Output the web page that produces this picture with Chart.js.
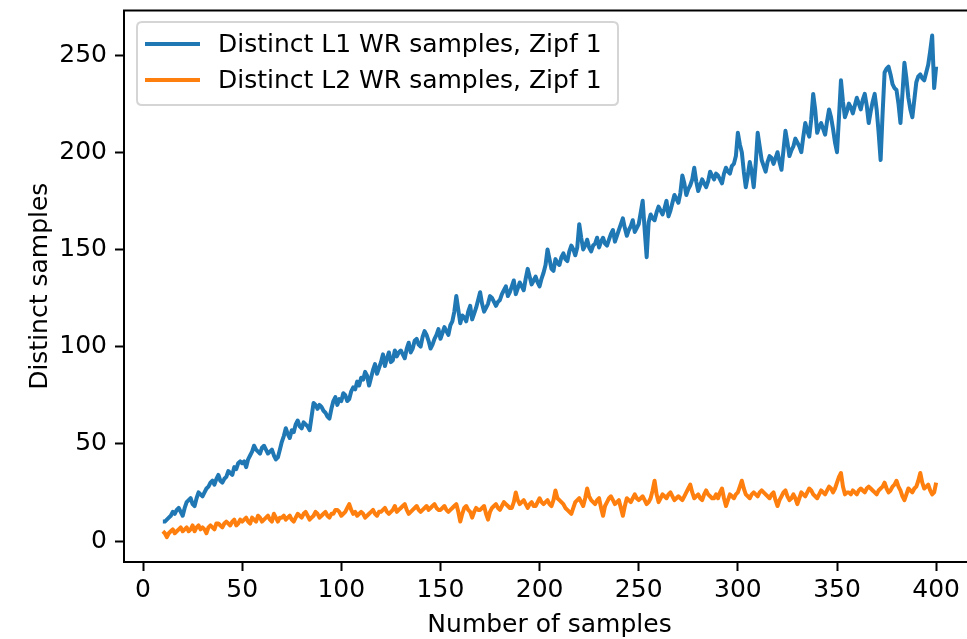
<!DOCTYPE html>
<html>
<head>
<meta charset="utf-8">
<script src="https://cdn.jsdelivr.net/npm/chart.js@4"></script>
<style>
html,body{margin:0;padding:0;background:#fff;overflow:hidden;width:967px;height:639px;}
#outer{position:relative;width:967px;height:639px;overflow:hidden;}
#wrap{position:absolute;left:0;top:0;width:1000px;height:639px;}
</style>
</head>
<body>
<div id="outer"><div id="wrap"><canvas id="c"></canvas></div></div>
<script>
const sampleCounts = [
10,11,12,13,14,15,16,17,18,19,20,21,22,23,24,25,26,27,28,29,
30,31,32,33,34,35,36,37,38,39,40,41,42,43,44,45,46,47,48,49,
50,51,52,53,54,55,56,57,58,59,60,61,62,63,64,65,66,67,68,69,
70,71,72,73,74,75,76,77,78,79,80,81,82,83,84,85,86,87,88,89,
90,91,92,93,94,95,96,97,98,99,100,101,102,103,104,105,106,107,108,109,
110,111,112,113,114,115,116,117,118,119,120,121,122,123,124,125,126,127,128,129,
130,131,132,133,134,135,136,137,138,139,140,141,142,143,144,145,146,147,148,149,
150,151,152,153,154,155,156,157,158,159,160,161,162,163,164,165,166,167,168,169,
170,171,172,173,174,175,176,177,178,179,180,181,182,183,184,185,186,187,188,189,
190,191,192,193,194,195,196,197,198,199,200,201,202,203,204,205,206,207,208,209,
210,211,212,213,214,215,216,217,218,219,220,221,222,223,224,225,226,227,228,229,
230,231,232,233,234,235,236,237,238,239,240,241,242,243,244,245,246,247,248,249,
250,251,252,253,254,255,256,257,258,259,260,261,262,263,264,265,266,267,268,269,
270,271,272,273,274,275,276,277,278,279,280,281,282,283,284,285,286,287,288,289,
290,291,292,293,294,295,296,297,298,299,300,301,302,303,304,305,306,307,308,309,
310,311,312,313,314,315,316,317,318,319,320,321,322,323,324,325,326,327,328,329,
330,331,332,333,334,335,336,337,338,339,340,341,342,343,344,345,346,347,348,349,
350,351,352,353,354,355,356,357,358,359,360,361,362,363,364,365,366,367,368,369,
370,371,372,373,374,375,376,377,378,379,380,381,382,383,384,385,386,387,388,389,
390,391,392,393,394,395,396,397,398,399,400];

const distinctL1 = [
10,10,11,12,13,15,14,16,17,15,
13,17,20,21,22,19,18,22,25,24,
23,25,27,28,30,31,29,32,34,31,
30,32,33,36,35,34,38,37,40,41,
40,41,38,42,44,46,49,47,46,45,
48,49,47,45,46,47,44,42,43,47,
51,54,58,55,53,57,56,60,62,59,
58,61,60,59,57,64,71,70,68,70,
69,67,66,64,63,68,72,74,70,73,
72,76,75,72,73,77,79,78,82,80,
84,83,87,85,80,84,88,91,86,89,
92,96,90,94,97,92,93,98,95,97,
98,96,94,99,102,97,99,103,104,101,
100,105,108,106,103,99,101,104,106,109,
104,107,110,108,106,111,113,118,126,119,
112,116,115,113,118,121,114,117,120,124,
128,122,118,120,122,126,125,123,121,123,
124,127,129,131,126,128,131,134,127,130,
133,131,129,135,140,136,132,134,136,133,
131,135,138,142,150,145,140,139,145,143,
142,146,148,145,144,149,152,150,147,151,
163,156,150,152,155,151,149,152,153,156,
151,154,156,153,152,155,158,160,154,157,
160,163,166,161,157,160,162,165,159,161,
163,169,175,160,146,164,168,166,165,169,
172,170,168,171,175,167,170,174,178,176,
174,179,188,184,178,181,183,186,192,185,
180,183,186,184,182,185,190,188,186,189,
188,186,184,189,192,190,189,193,194,198,
210,204,200,190,182,188,195,190,182,194,
210,203,196,193,190,195,198,197,194,197,
200,195,191,201,211,205,198,201,203,207,
205,203,200,208,215,211,208,217,230,222,
210,213,215,212,209,216,222,218,212,205,
200,218,237,226,218,221,225,223,220,224,
228,225,222,227,230,224,215,221,226,230,
222,210,196,220,241,243,244,240,235,233,
232,225,215,230,246,238,228,222,218,227,
236,239,240,238,237,241,245,252,260,233,
244];

const distinctL2 = [
5,4,2,4,5,6,4,5,6,7,
5,6,7,5,6,8,5,7,8,6,
7,6,4,7,8,7,6,9,9,8,
7,9,10,9,8,10,11,8,9,11,
10,11,12,10,9,12,11,10,13,12,
10,11,12,13,11,10,14,12,10,12,
12,13,11,12,13,11,10,12,14,13,
12,14,15,13,11,12,13,15,14,12,
13,14,15,13,12,14,14,16,16,15,
13,14,15,17,19,16,14,15,13,14,
15,14,12,13,14,15,16,14,13,15,
15,16,17,15,14,15,16,18,15,16,
17,18,19,16,14,15,16,17,18,16,
15,16,17,18,16,17,18,19,17,16,
16,17,18,16,15,16,17,18,19,15,
10,14,17,18,16,15,12,15,17,16,
16,17,18,14,11,15,17,18,19,17,
16,18,20,19,18,17,17,20,25,21,
19,20,21,19,17,19,20,18,18,20,
22,20,19,20,21,19,18,21,26,22,
21,20,19,17,16,15,14,17,20,21,
22,20,18,22,27,23,21,20,19,21,
22,17,13,18,20,22,23,21,19,20,
21,17,13,18,22,21,20,22,24,22,
21,22,23,21,19,20,22,26,31,24,
20,22,24,23,22,24,25,23,21,22,
23,22,21,23,25,27,29,25,22,23,
24,22,21,24,26,24,23,22,22,24,
22,25,27,22,18,21,24,23,22,24,
25,28,31,27,24,23,22,24,25,24,
23,25,26,25,24,23,22,24,25,21,
18,21,23,25,26,23,21,22,24,22,
19,22,25,24,23,25,27,26,24,23,
22,24,26,25,24,26,28,27,25,27,
30,33,35,28,24,25,25,24,26,25,
24,26,27,26,25,27,28,27,26,25,
24,26,27,28,30,27,25,26,28,29,
31,28,26,23,21,24,27,26,25,27,
28,31,35,30,27,28,29,26,24,25,
30];

const seriesLabels = ['Distinct L1 WR samples, Zipf 1', 'Distinct L2 WR samples, Zipf 1'];
const xTickValues = [0,50,100,150,200,250,300,350,400];
const yTickValues = [0,50,100,150,200,250];

const FONT = "'DejaVu Sans', sans-serif";

const framePlugin = {
  id: 'frame',
  afterDraw(chart) {
    const {ctx, chartArea: a} = chart;
    ctx.save();
    // keep the area right of the last sample clean (right spine lies beyond the page)
    ctx.fillStyle = '#fff';
    ctx.fillRect(950, a.top + 2, chart.width - 950, a.bottom - a.top - 3);
    ctx.strokeStyle = '#000';
    ctx.lineWidth = 2;
    ctx.beginPath();
    ctx.moveTo(a.left - 1, a.top);
    ctx.lineTo(chart.width, a.top);
    ctx.stroke();
    const x0 = 137, y0 = 22, x1 = 618, y1 = 105, r = 5;
    ctx.beginPath();
    ctx.moveTo(x0 + r, y0);
    ctx.lineTo(x1 - r, y0); ctx.quadraticCurveTo(x1, y0, x1, y0 + r);
    ctx.lineTo(x1, y1 - r); ctx.quadraticCurveTo(x1, y1, x1 - r, y1);
    ctx.lineTo(x0 + r, y1); ctx.quadraticCurveTo(x0, y1, x0, y1 - r);
    ctx.lineTo(x0, y0 + r); ctx.quadraticCurveTo(x0, y0, x0 + r, y0);
    ctx.closePath();
    ctx.fillStyle = 'rgba(255,255,255,0.8)';
    ctx.fill();
    ctx.strokeStyle = '#d5d5d5';
    ctx.lineWidth = 2;
    ctx.stroke();
    const rows = [44, 80];
    chart.data.datasets.forEach((ds, i) => {
      ctx.beginPath();
      ctx.strokeStyle = ds.borderColor;
      ctx.lineWidth = 4;
      ctx.moveTo(145, rows[i]);
      ctx.lineTo(200, rows[i]);
      ctx.stroke();
      ctx.fillStyle = '#000';
      ctx.font = '25px ' + FONT;
      ctx.textBaseline = 'middle';
      ctx.textAlign = 'left';
      ctx.fillText(ds.label, 218, rows[i] + 1);
    });
    ctx.restore();
  }
};

new Chart(document.getElementById('c'), {
  type: 'line',
  data: {
    labels: sampleCounts,
    datasets: [
      {label: seriesLabels[0], data: distinctL1.map((v, i) => ({x: sampleCounts[i], y: v})),
       borderColor: '#1f77b4', backgroundColor: '#1f77b4', borderWidth: 4, pointRadius: 0,
       tension: 0, borderJoinStyle: 'round', fill: false},
      {label: seriesLabels[1], data: distinctL2.map((v, i) => ({x: sampleCounts[i], y: v})),
       borderColor: '#ff7f0e', backgroundColor: '#ff7f0e', borderWidth: 4, pointRadius: 0,
       tension: 0, borderJoinStyle: 'round', fill: false}
    ]
  },
  options: {
    responsive: true,
    maintainAspectRatio: false,
    animation: false,
    layout: {padding: {top: 10.5, right: 25, left: 0, bottom: 0}},
    plugins: {legend: {display: false}, tooltip: {enabled: false}, title: {display: false}},
    scales: {
      x: {
        type: 'linear', min: -9.6, max: 419.6,
        afterBuildTicks: s => { s.ticks = xTickValues.map(v => ({value: v})); },
        afterFit: s => { s.height = 77; s.paddingLeft = 0; s.paddingRight = 0; },
        grid: {display: true, drawOnChartArea: false, drawTicks: true, tickLength: 9, tickWidth: 2, tickColor: '#000'},
        border: {display: true, color: '#000', width: 2},
        ticks: {color: '#000', font: {family: FONT, size: 25}, padding: 4, maxRotation: 0, autoSkip: false},
        title: {display: true, text: 'Number of samples', color: '#000', font: {family: FONT, size: 25}, padding: {top: 0, bottom: -1}}
      },
      y: {
        type: 'linear', min: -10.8, max: 272.9,
        afterBuildTicks: s => { s.ticks = yTickValues.map(v => ({value: v})); },
        afterFit: s => { s.width = 124; s.paddingTop = 0; s.paddingBottom = 0; },
        grid: {display: true, drawOnChartArea: false, drawTicks: true, tickLength: 9, tickWidth: 2, tickColor: '#000'},
        border: {display: true, color: '#000', width: 2},
        ticks: {color: '#000', font: {family: FONT, size: 25}, padding: 8, autoSkip: false},
        title: {display: true, text: 'Distinct samples', color: '#000', font: {family: FONT, size: 25}, padding: {top: 25, bottom: 0}}
      }
    }
  },
  plugins: [framePlugin]
});
</script>
</body>
</html>
